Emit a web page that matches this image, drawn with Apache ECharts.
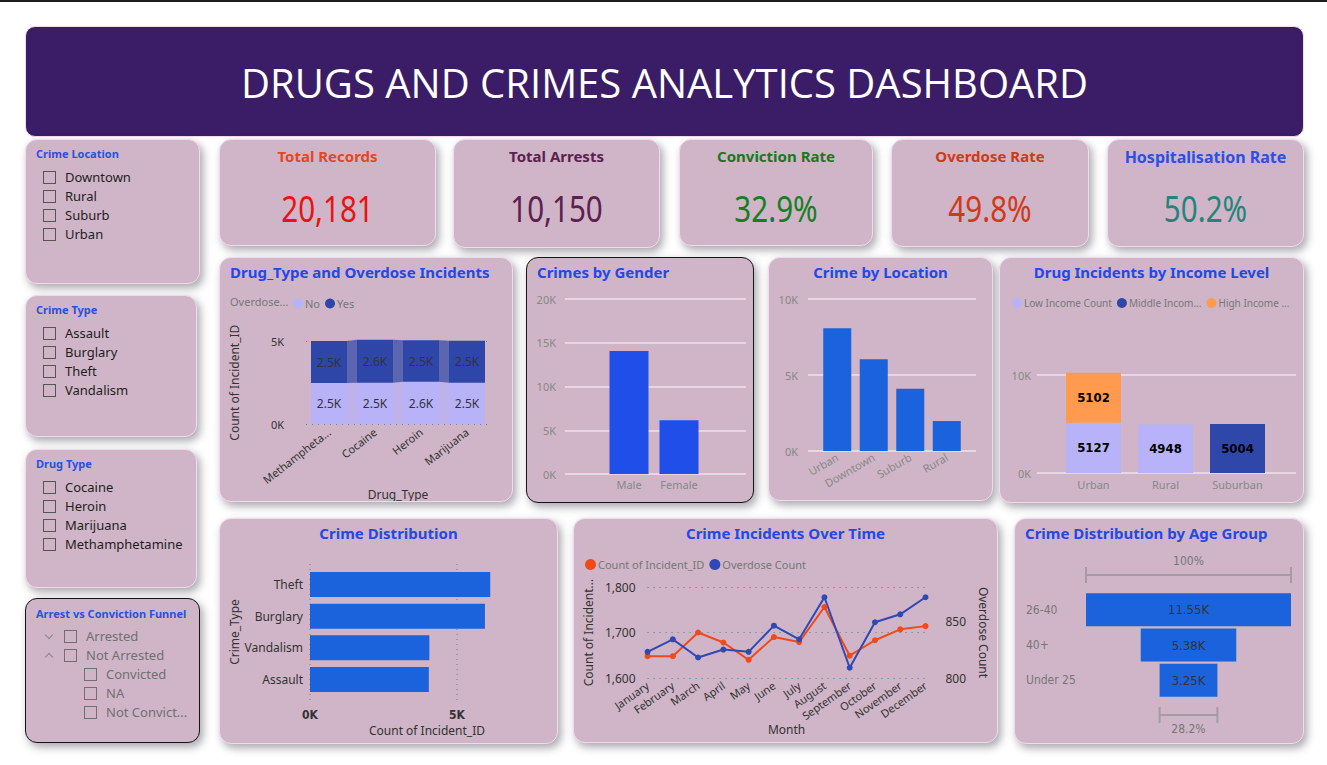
<!DOCTYPE html>
<html>
<head>
<meta charset="utf-8">
<title>Drugs and Crimes Analytics Dashboard</title>
<script src="https://cdn.jsdelivr.net/npm/echarts@6/dist/echarts.min.js"></script>
<style>
html,body{margin:0;padding:0;background:#fff;width:1327px;height:765px;overflow:hidden;font-family:'Segoe UI','Noto Sans','Open Sans',sans-serif;}
#topline{position:absolute;left:0;top:0;width:1327px;height:2px;background:#1e1e1e;}
.panel{position:absolute;box-sizing:border-box;background:#cfb5c7;border:1px solid #f4d9ec;border-radius:12px;box-shadow:3px 4px 8px rgba(60,60,75,.45);}
.panel.dark{border:1px solid #151515;}
.header{position:absolute;left:25px;top:26px;width:1279px;height:111px;background:#3a1d66;border-radius:10px;border:1px solid #f4d9ec;box-sizing:border-box;color:#fff;font-family:'Open Sans','Noto Sans',sans-serif;font-weight:400;font-size:40px;line-height:112px;text-align:center;}
.stitle{position:absolute;left:10px;top:6px;font-size:11px;font-weight:bold;color:#2a4fe6;line-height:16px;white-space:nowrap;}
.sitem{position:absolute;height:19px;line-height:19px;font-size:13px;color:#1e1e1e;white-space:nowrap;}
.sitem.gray{color:#707070;}
.cbox{position:absolute;width:11px;height:11px;border:1px solid #555;top:3px;}
.chev{position:absolute;width:5px;height:5px;border-right:1px solid #8a8a8a;border-bottom:1px solid #8a8a8a;}
.ktitle{position:absolute;left:0;width:100%;text-align:center;font-weight:bold;font-size:15px;line-height:20px;white-space:nowrap;}
.kval{position:absolute;left:0;width:100%;text-align:center;font-family:'Noto Sans',sans-serif;font-size:37px;line-height:42px;transform:scaleX(0.8);}
.chart{position:absolute;left:0;top:0;width:100%;height:100%;}
</style>
</head>
<body>
<div id="topline"></div>
<div class="header">DRUGS AND CRIMES ANALYTICS DASHBOARD</div>
<script>
// ---------------- DATA ----------------
const crimeLocationItems = ['Downtown', 'Rural', 'Suburb', 'Urban'];
const crimeTypeItems = ['Assault', 'Burglary', 'Theft', 'Vandalism'];
const drugTypeItems = ['Cocaine', 'Heroin', 'Marijuana', 'Methamphetamine'];
const arrestItems = ['Arrested', 'Not Arrested', 'Convicted', 'NA', 'Not Convict...'];

const kpiTitles = ['Total Records', 'Total Arrests', 'Conviction Rate', 'Overdose Rate', 'Hospitalisation Rate'];
const kpiValues = ['20,181', '10,150', '32.9%', '49.8%', '50.2%'];

const drugCats = ['Methampheta...', 'Cocaine', 'Heroin', 'Marijuana'];
const overdoseNo = [2480, 2500, 2560, 2500];
const overdoseYes = [2520, 2580, 2480, 2510];

const genderCats = ['Male', 'Female'];
const genderValues = [14050, 6131];

const locationCats = ['Urban', 'Downtown', 'Suburb', 'Rural'];
const locationValues = [8070, 6040, 4100, 1971];

const incomeCats = ['Urban', 'Rural', 'Suburban'];
const lowIncome = [5127, 4948, null];
const middleIncome = [null, null, 5004];
const highIncome = [5102, null, null];

const crimeDistCats = ['Theft', 'Burglary', 'Vandalism', 'Assault'];
const crimeDistValues = [6130, 5950, 4060, 4041];

const months = ['January', 'February', 'March', 'April', 'May', 'June', 'July', 'August', 'September', 'October', 'November', 'December'];
const incidentCounts = [1648, 1648, 1700, 1678, 1640, 1690, 1679, 1756, 1649, 1683, 1707, 1714];
const overdoseCounts = [823, 834, 818, 825, 823, 846, 834, 871, 809, 849, 856, 871];

const ageCats = ['26-40', '40+', 'Under 25'];
const ageValues = [11547, 5380, 3254];

// ---------------- LAYOUT ----------------
const FONT = "'Segoe UI','Noto Sans','Open Sans',sans-serif";
const NARROW = "'Liberation Sans Narrow','DejaVu Sans Condensed','Noto Sans',sans-serif";
const TITLE_STYLE = {color: '#2448e6', fontWeight: 'bold', fontSize: 15, fontFamily: FONT};

function panel(x, y, w, h, dark) {
  const d = document.createElement('div');
  d.className = 'panel' + (dark ? ' dark' : '');
  d.style.left = x + 'px'; d.style.top = y + 'px';
  d.style.width = w + 'px'; d.style.height = h + 'px';
  document.body.appendChild(d);
  return d;
}
function add(parent, cls, css, text) {
  const d = document.createElement('div');
  d.className = cls;
  Object.assign(d.style, css);
  if (text !== undefined) d.textContent = text;
  parent.appendChild(d);
  return d;
}

// Slicers
function slicer(x, y, w, h, title, items) {
  const p = panel(x, y, w, h);
  add(p, 'stitle', {}, title);
  items.forEach((t, i) => {
    const it = add(p, 'sitem', {left: '17px', top: (28 + i * 19) + 'px'});
    add(it, 'cbox', {left: '0px'});
    add(it, '', {position: 'absolute', left: '22px', top: '0px'}, t);
  });
}
slicer(25, 139, 175, 145, 'Crime Location', crimeLocationItems);
slicer(25, 295, 172, 142, 'Crime Type', crimeTypeItems);
slicer(25, 449, 172, 139, 'Drug Type', drugTypeItems);
(function () {
  const p = panel(25, 598, 175, 145, true);
  add(p, 'stitle', {top: '7px'}, 'Arrest vs Conviction Funnel');
  const levels = [0, 0, 1, 1, 1];
  const chevs = ['down', 'up', '', '', ''];
  arrestItems.forEach((t, i) => {
    const indent = levels[i] * 20;
    const it = add(p, 'sitem gray', {left: (18 + indent) + 'px', top: (28 + i * 19) + 'px'});
    if (chevs[i] === 'down') add(it, 'chev', {left: '2px', top: '5px', transform: 'rotate(45deg)'});
    if (chevs[i] === 'up') add(it, 'chev', {left: '2px', top: '8px', transform: 'rotate(225deg)'});
    add(it, 'cbox', {left: '20px', borderColor: '#707070'});
    add(it, '', {position: 'absolute', left: '42px', top: '0px'}, t);
  });
})();

// KPI cards
const kpiBoxes = [[219, 139, 217, 107], [453, 139, 207, 109], [679, 139, 194, 107], [891, 139, 198, 108], [1107, 139, 197, 108]];
const kpiTitleColors = ['#e8461c', '#5c2150', '#167a1c', '#cf3a12', '#2b4fe8'];
const kpiValueColors = ['#ea1212', '#5c2150', '#14801f', '#cf3a18', '#23857a'];
kpiBoxes.forEach((b, i) => {
  const p = panel(b[0], b[1], b[2], b[3]);
  const big = i === 4;
  add(p, 'ktitle', {top: big ? '7px' : '6px', color: kpiTitleColors[i], fontSize: big ? '16px' : '15px'}, kpiTitles[i]);
  add(p, 'kval', {top: '47px', color: kpiValueColors[i]}, kpiValues[i]);
});

function chartPanel(x, y, w, h, dark) {
  const p = panel(x, y, w, h, dark);
  const c = add(p, 'chart', {});
  return echarts.init(c, null, {renderer: 'svg'});
}
const kFmt1 = v => (v / 1000).toFixed(1) + 'K';
const kFmt0 = v => (v / 1000) + 'K';
function mainTitle(text, left) {
  return {text: text, left: left, top: 6, padding: 0, textStyle: TITLE_STYLE};
}

// ---------- Drug_Type and Overdose Incidents (ribbon) ----------
(function () {
  const ch = chartPanel(219, 257, 294, 245);
  const totals = overdoseNo.map((v, i) => v + overdoseYes[i]);
  const ribbonData = [];
  for (let i = 0; i < drugCats.length - 1; i++) {
    ribbonData.push([i, overdoseNo[i], totals[i], overdoseNo[i + 1], totals[i + 1]]);
  }
  const HALF = 18;
  ch.setOption({
    textStyle: {fontFamily: FONT},
    title: [
      mainTitle('Drug_Type and Overdose Incidents', 10),
      {text: 'Overdose...', left: 10, top: 38, padding: 0, textStyle: {color: '#777', fontSize: 11, fontWeight: 'normal', fontFamily: FONT}}
    ],
    legend: {data: ['No', 'Yes'], left: 73, top: 40, padding: 0, icon: 'circle', itemWidth: 10, itemHeight: 10, itemGap: 5,
      textStyle: {color: '#777', fontSize: 11, padding: [0, 0, 0, -3]}},
    grid: {left: 86, top: 83, width: 184, height: 84},
    xAxis: {type: 'category', data: drugCats, axisLine: {show: false}, axisTick: {show: false},
      axisLabel: {rotate: 38, color: '#333', fontSize: 11, interval: 0, margin: 6},
      name: 'Drug_Type', nameLocation: 'middle', nameGap: 51, nameTextStyle: {color: '#333', fontSize: 12}},
    yAxis: {type: 'value', min: 0, max: 5000, interval: 5000,
      axisLabel: {formatter: kFmt0, color: '#333', fontSize: 11, margin: 22},
      splitLine: {lineStyle: {color: '#3f8a8c', type: [1, 5]}},
      name: 'Count of Incident_ID', nameLocation: 'middle', nameRotate: 90, nameGap: 66,
      nameTextStyle: {color: '#333', fontSize: 12}},
    series: [
      {type: 'custom', name: 'ribbon', z: 1, silent: true, data: ribbonData, encode: {x: 0, y: [1, 2, 3, 4]},
        renderItem: function (params, api) {
          const i = api.value(0);
          const xL = api.coord([i, 0])[0] + HALF, xR = api.coord([i + 1, 0])[0] - HALF;
          const y = v => api.coord([i, v])[1];
          const no0 = api.value(1), t0 = api.value(2), no1 = api.value(3), t1 = api.value(4);
          return {type: 'group', children: [
            {type: 'polygon', shape: {points: [[xL, y(0)], [xL, y(no0)], [xR, y(no1)], [xR, y(0)]]}, style: {fill: '#b8b2f8', opacity: 0.72}},
            {type: 'polygon', shape: {points: [[xL, y(no0)], [xL, y(t0)], [xR, y(t1)], [xR, y(no1)]]}, style: {fill: '#2e46a8', opacity: 0.72}}
          ]};
        }},
      {type: 'bar', name: 'No', stack: 'o', z: 2, barWidth: 36, clip: false, data: overdoseNo, itemStyle: {color: '#b8b2f9'},
        label: {show: true, position: 'inside', formatter: p => kFmt1(p.value), color: '#333', fontSize: 12}},
      {type: 'bar', name: 'Yes', stack: 'o', z: 2, barWidth: 36, clip: false, data: overdoseYes, itemStyle: {color: '#2e46a8'},
        label: {show: true, position: 'inside', formatter: p => kFmt1(p.value), color: '#333', fontSize: 12}}
    ]
  });
})();

// ---------- Crimes by Gender ----------
(function () {
  const ch = chartPanel(526, 257, 228, 246, true);
  ch.setOption({
    textStyle: {fontFamily: FONT},
    title: mainTitle('Crimes by Gender', 10),
    grid: [{left: 38, top: 41, width: 181, height: 175}, {left: 77, top: 41, width: 100, height: 175}],
    xAxis: [
      {gridIndex: 0, type: 'category', data: [''], show: false},
      {gridIndex: 1, type: 'category', data: genderCats, axisLine: {show: false}, axisTick: {show: false},
        axisLabel: {color: '#888', fontSize: 11, margin: 5}}
    ],
    yAxis: [
      {gridIndex: 0, type: 'value', min: 0, max: 20000, interval: 5000,
        axisLabel: {formatter: kFmt0, color: '#888', fontSize: 11, margin: 9},
        splitLine: {lineStyle: {color: '#ece4ea', width: 1.5}}},
      {gridIndex: 1, type: 'value', min: 0, max: 20000, interval: 5000, show: false, splitLine: {show: false}}
    ],
    series: [{type: 'bar', xAxisIndex: 1, yAxisIndex: 1, data: genderValues, barWidth: 39, itemStyle: {color: '#1f4fe8'}}]
  });
})();

// ---------- Crime by Location ----------
(function () {
  const ch = chartPanel(768, 257, 225, 244);
  ch.setOption({
    textStyle: {fontFamily: FONT},
    title: mainTitle('Crime by Location', 'center'),
    grid: [{left: 39, top: 41, width: 168, height: 152}, {left: 50, top: 41, width: 146, height: 152}],
    xAxis: [
      {gridIndex: 0, type: 'category', data: [''], show: false},
      {gridIndex: 1, type: 'category', data: locationCats, axisLine: {show: false}, axisTick: {show: false},
        axisLabel: {color: '#888', fontSize: 11, margin: 5, rotate: 30, interval: 0}}
    ],
    yAxis: [
      {gridIndex: 0, type: 'value', min: 0, max: 10000, interval: 5000,
        axisLabel: {formatter: kFmt0, color: '#888', fontSize: 11, margin: 10},
        splitLine: {lineStyle: {color: '#ece4ea', width: 1.5}}},
      {gridIndex: 1, type: 'value', min: 0, max: 10000, interval: 5000, show: false, splitLine: {show: false}}
    ],
    series: [{type: 'bar', xAxisIndex: 1, yAxisIndex: 1, data: locationValues, barWidth: 28, itemStyle: {color: '#1a63dc'}}]
  });
})();

// ---------- Drug Incidents by Income Level ----------
(function () {
  const ch = chartPanel(999, 257, 305, 246);
  const lbl = {show: true, position: 'inside', color: '#000', fontWeight: 'bold', fontSize: 13, fontFamily: NARROW};
  ch.setOption({
    textStyle: {fontFamily: FONT},
    title: mainTitle('Drug Incidents by Income Level', 'center'),
    legend: {left: 12, top: 40, padding: 0, icon: 'circle', itemWidth: 10, itemHeight: 10, itemGap: 5, width: 300,
      textStyle: {color: '#777', fontSize: 10, padding: [0, 0, 0, -3]},
      formatter: n => n === 'Low Income Count' ? n : n.replace('Middle Income Count', 'Middle Incom...').replace('High Income Count', 'High Income ...')},
    grid: [{left: 37, top: 117, width: 259, height: 98}, {left: 57.5, top: 117, width: 216, height: 98}],
    xAxis: [
      {gridIndex: 0, type: 'category', data: [''], show: false},
      {gridIndex: 1, type: 'category', data: incomeCats, axisLine: {show: false}, axisTick: {show: false},
        axisLabel: {color: '#888', fontSize: 11, margin: 6}}
    ],
    yAxis: [
      {gridIndex: 0, type: 'value', min: 0, max: 10000, interval: 10000,
        axisLabel: {formatter: kFmt0, color: '#888', fontSize: 11, margin: 6},
        splitLine: {lineStyle: {color: '#ece4ea', width: 1.5}}},
      {gridIndex: 1, type: 'value', min: 0, max: 10000, show: false, splitLine: {show: false}}
    ],
    series: [
      {type: 'bar', name: 'Low Income Count', stack: 'i', xAxisIndex: 1, yAxisIndex: 1, barWidth: 55, clip: false, data: lowIncome, itemStyle: {color: '#b8b2f9'}, label: lbl},
      {type: 'bar', name: 'Middle Income Count', stack: 'i', xAxisIndex: 1, yAxisIndex: 1, barWidth: 55, clip: false, data: middleIncome, itemStyle: {color: '#2e47a8'}, label: lbl},
      {type: 'bar', name: 'High Income Count', stack: 'i', xAxisIndex: 1, yAxisIndex: 1, barWidth: 55, clip: false, data: highIncome, itemStyle: {color: '#ff9a4f'}, label: lbl}
    ]
  });
})();

// ---------- Crime Distribution ----------
(function () {
  const ch = chartPanel(219, 518, 339, 226);
  ch.setOption({
    textStyle: {fontFamily: FONT},
    title: [
      mainTitle('Crime Distribution', 'center'),
      {text: 'Count of Incident_ID', left: 207, top: 205, padding: 0, textAlign: 'center', textStyle: {color: '#333', fontSize: 12, fontWeight: 'normal', fontFamily: FONT}}
    ],
    grid: [{left: 90, top: 45, width: 147, height: 140}, {left: 90, top: 49.7, width: 147, height: 126.6}],
    xAxis: [
      {gridIndex: 0, type: 'value', min: 0, max: 5000, interval: 5000, axisLine: {show: false}, axisTick: {show: false},
        axisLabel: {formatter: kFmt0, color: '#333', fontSize: 12, margin: 5, fontFamily: NARROW, fontWeight: 'bold'},
        splitLine: {lineStyle: {color: '#8e8e96', type: [1, 4], width: 1.5}}},
      {gridIndex: 1, type: 'value', min: 0, max: 5000, show: false, splitLine: {show: false}}
    ],
    yAxis: [
      {gridIndex: 0, type: 'category', data: [''], show: false},
      {gridIndex: 1, type: 'category', inverse: true, data: crimeDistCats, axisLine: {show: false}, axisTick: {show: false},
        axisLabel: {color: '#333', fontSize: 12, margin: 7},
        name: 'Crime_Type', nameLocation: 'middle', nameRotate: 90, nameGap: 70, nameTextStyle: {color: '#333', fontSize: 12}}
    ],
    series: [{type: 'bar', xAxisIndex: 1, yAxisIndex: 1, data: crimeDistValues, barWidth: 25, clip: false, itemStyle: {color: '#1a63dc'}}]
  });
})();

// ---------- Crime Incidents Over Time ----------
(function () {
  const ch = chartPanel(573, 518, 425, 225);
  ch.setOption({
    textStyle: {fontFamily: FONT},
    title: mainTitle('Crime Incidents Over Time', 'center'),
    legend: {left: 11, top: 40, padding: 0, icon: 'circle', itemWidth: 11, itemHeight: 11, itemGap: 5,
      textStyle: {color: '#777', fontSize: 11, padding: [0, 0, 0, -3]}},
    grid: {left: 66, top: 68, width: 293, height: 91},
    xAxis: {type: 'category', data: months, boundaryGap: false, axisLine: {show: false}, axisTick: {show: false},
      axisLabel: {rotate: 35, color: '#333', fontSize: 11, interval: 0, margin: 6},
      name: 'Month', nameLocation: 'middle', nameGap: 40, nameTextStyle: {color: '#333', fontSize: 12}},
    yAxis: [
      {type: 'value', min: 1600, max: 1800, interval: 100,
        axisLabel: {formatter: v => v.toLocaleString('en-US'), color: '#333', fontSize: 12, margin: 12},
        splitLine: {lineStyle: {color: '#3f8a8c', type: [1, 5]}},
        name: 'Count of Incident...', nameLocation: 'middle', nameRotate: 90, nameGap: 50, nameTextStyle: {color: '#333', fontSize: 12}},
      {type: 'value', min: 800, max: 880, interval: 50, position: 'right',
        axisLabel: {formatter: v => (v % 50 === 0 ? String(v) : ''), color: '#333', fontSize: 12, margin: 20},
        splitLine: {show: false},
        name: 'Overdose Count', nameLocation: 'middle', nameRotate: -90, nameGap: 42, nameTextStyle: {color: '#333', fontSize: 12}}
    ],
    series: [
      {type: 'line', name: 'Count of Incident_ID', data: incidentCounts, yAxisIndex: 0, symbol: 'circle', symbolSize: 6,
        lineStyle: {width: 2, color: '#f04a1a'}, itemStyle: {color: '#f04a1a'}},
      {type: 'line', name: 'Overdose Count', data: overdoseCounts, yAxisIndex: 1, symbol: 'circle', symbolSize: 6,
        lineStyle: {width: 2, color: '#2f48b5'}, itemStyle: {color: '#2f48b5'}}
    ]
  });
})();

// ---------- Crime Distribution by Age Group (funnel) ----------
(function () {
  const ch = chartPanel(1014, 518, 290, 226);
  const maxV = ageValues[0];
  const offsets = ageValues.map(v => (maxV - v) / 2);
  const last = ageValues.length - 1;
  const pct = (ageValues[last] / maxV * 100).toFixed(1) + '%';
  ch.setOption({
    textStyle: {fontFamily: FONT},
    title: mainTitle('Crime Distribution by Age Group', 10),
    grid: {left: 71, top: 73, width: 205, height: 106},
    xAxis: {type: 'value', min: 0, max: maxV, show: false},
    yAxis: {type: 'category', inverse: true, data: ageCats, axisLine: {show: false}, axisTick: {show: false},
      axisLabel: {color: '#777', fontSize: 12, align: 'left', margin: 60, fontFamily: NARROW}},
    series: [
      {type: 'bar', stack: 'f', data: offsets, barWidth: 33, itemStyle: {color: 'rgba(0,0,0,0)'}, silent: true},
      {type: 'bar', stack: 'f', data: ageValues, barWidth: 33, itemStyle: {color: '#1a63dc'},
        label: {show: true, position: 'inside', color: '#333', fontSize: 13, fontFamily: NARROW, formatter: p => (p.value / 1000).toFixed(2) + 'K'}},
      {type: 'custom', silent: true, data: [[0, 0]], encode: {x: 0, y: 1},
        renderItem: function (params, api) {
          const band = api.size([0, 1])[1];
          const yTop = api.coord([0, 0])[1] - band / 2 - 17;
          const yBot = api.coord([0, last])[1] + band / 2 + 17;
          const x0 = api.coord([0, 0])[0], x1 = api.coord([maxV, 0])[0];
          const b0 = api.coord([offsets[last], 0])[0], b1 = api.coord([offsets[last] + ageValues[last], 0])[0];
          const ls = {stroke: '#a39ca3', lineWidth: 2};
          function bracket(a, b, y) {
            return [
              {type: 'line', shape: {x1: a, y1: y, x2: b, y2: y}, style: ls},
              {type: 'line', shape: {x1: a, y1: y - 8, x2: a, y2: y + 8}, style: ls},
              {type: 'line', shape: {x1: b, y1: y - 8, x2: b, y2: y + 8}, style: ls}
            ];
          }
          return {type: 'group', children: [].concat(
            bracket(x0, x1, yTop), bracket(b0, b1, yBot),
            [{type: 'text', style: {text: '100%', x: (x0 + x1) / 2, y: yTop - 14, align: 'center', verticalAlign: 'middle', fill: '#777', font: '12px ' + NARROW}},
             {type: 'text', style: {text: pct, x: (b0 + b1) / 2, y: yBot + 14, align: 'center', verticalAlign: 'middle', fill: '#777', font: '12px ' + NARROW}}]
          )};
        }}
    ]
  });
})();
</script>
</body>
</html>
